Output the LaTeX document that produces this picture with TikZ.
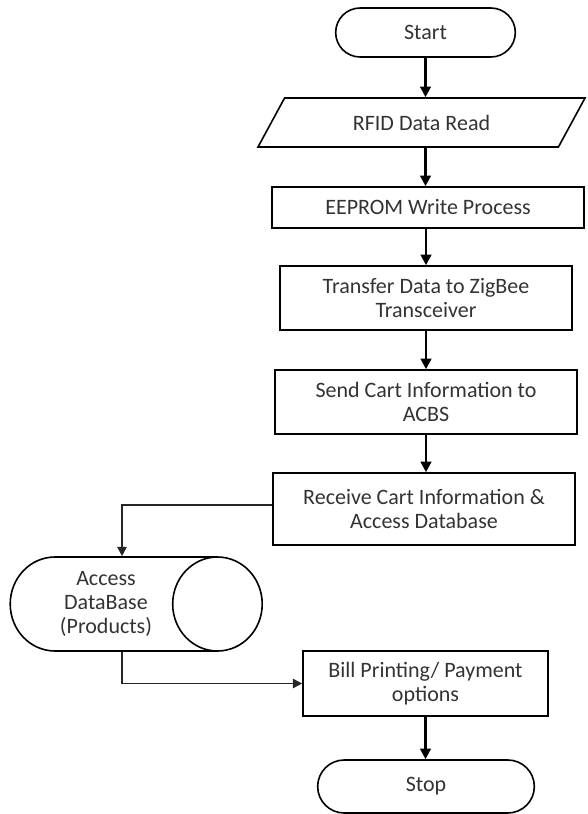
\documentclass[tikz,border=0pt]{standalone}
\usepackage{fontspec}
\setmainfont{Carlito}
\usetikzlibrary{shapes.geometric,shapes.misc,arrows.meta}

\begin{document}
\begin{tikzpicture}[x=0.75pt, y=-0.75pt,
            box/.style={rectangle, draw, line width=1.2pt, text=black!80, align=center, inner sep=2pt,
                        font=\fontsize{16.5}{18}\selectfont},
            term/.style={box, rounded rectangle},
            io/.style={box, trapezium, trapezium left angle=38, trapezium right angle=142, trapezium stretches body},
            store/.style={box, cylinder, aspect=1.27},
            arrow/.style={-{Triangle[length=8pt,width=8pt]}, line width=1.8pt},
            link/.style={-{Triangle[length=7pt,width=7pt]}, line width=1.2pt, black!85}
        ]
            \useasboundingbox (0,0) rectangle (587,814);

            \node[term, minimum width=138.75pt, minimum height=36.75pt] (start) at (425.5,32.5) {Start};
            \node[io, minimum width=245.25pt, minimum height=36.75pt] (rfid) at (421.5,122.5) {RFID Data Read};
            \node[box, minimum width=234pt, minimum height=30.75pt] (eeprom) at (428,207.5) {EEPROM Write Process};
            \node[box, minimum width=219pt, minimum height=48pt] (transfer) at (426,298) {Transfer Data to ZigBee\\Transceiver};
            \node[box, minimum width=226.5pt, minimum height=48pt] (send) at (426,402) {Send Cart Information to\\ACBS};
            \node[box, minimum width=226.5pt, minimum height=54pt] (recv) at (424,509) {Receive Cart Information \&\\Access Database};
            \node[store, minimum width=70.5pt, minimum height=189pt] (db) at (106,604) {Access\\DataBase\\(Products)};
            \node[box, minimum width=183.75pt, minimum height=48.75pt] (bill) at (425.5,683.5) {Bill Printing/ Payment\\options};
            \node[term, minimum width=166.5pt, minimum height=39.75pt] (stop) at (426,786.5) {Stop};

            \draw[arrow] (start.south) -- (start.south |- rfid.north);
            \draw[arrow] (start.south |- rfid.south) -- (start.south |- eeprom.north);
            \draw[arrow] (eeprom.south -| transfer.north) -- (transfer.north);
            \draw[arrow] (transfer) -- (send);
            \draw[arrow] (send.south) -- (send.south |- recv.north);
            \draw[link] ([yshift=3pt]recv.west) -| ([xshift=12pt]db.north);
            \draw[link] ([xshift=12pt]db.south) |- (bill.west);
            \draw[arrow] (bill.south) -- (bill.south |- stop.north);
        \end{tikzpicture}
\end{document}
